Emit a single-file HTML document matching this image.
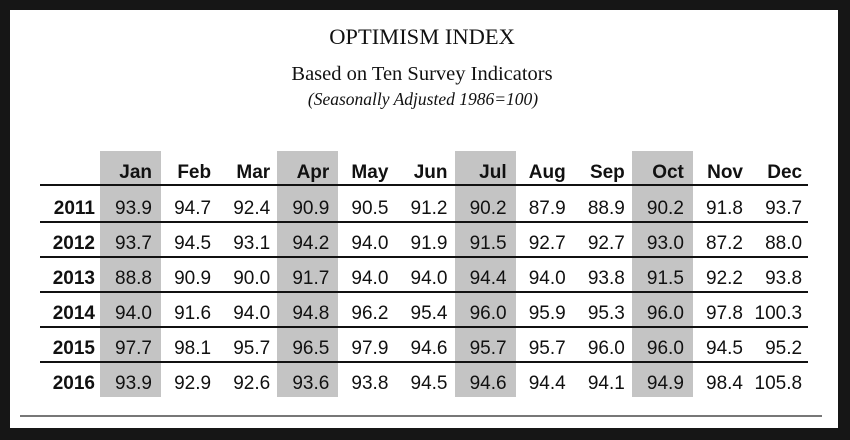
<!DOCTYPE html>
<html><head><meta charset="utf-8"><style>
body{margin:0;width:850px;height:440px;overflow:hidden;background:#161616;}
#card{position:absolute;left:10px;top:10px;width:828px;height:418px;background:#fff;}
.t{position:absolute;font-family:"Liberation Serif",serif;color:#111;text-align:center;white-space:nowrap;}
.c{position:absolute;font-family:"Liberation Sans",sans-serif;font-size:19px;color:#111;text-align:right;width:60px;line-height:22px;}
.b{font-weight:bold;}
.shade{position:absolute;background:#c4c4c4;}
.rule{position:absolute;background:#111;height:2px;}
</style></head><body>
<div id="card"></div>
<div class="t" style="left:0;width:844px;top:24px;font-size:22.5px;">OPTIMISM INDEX</div>
<div class="t" style="left:0;width:844px;top:63px;font-size:20.5px;">Based on Ten Survey Indicators</div>
<div class="t" style="left:0;width:846px;top:89px;font-size:17.5px;font-style:italic;">(Seasonally Adjusted 1986=100)</div>
<div id="tbl"></div>
<div style="position:absolute;left:20px;top:415px;width:802px;height:2px;background:#777;"></div>
<script>
const months=["Jan","Feb","Mar","Apr","May","Jun","Jul","Aug","Sep","Oct","Nov","Dec"];
const years=["2011","2012","2013","2014","2015","2016"];
const v2011=["93.9","94.7","92.4","90.9","90.5","91.2","90.2","87.9","88.9","90.2","91.8","93.7"];
const v2012=["93.7","94.5","93.1","94.2","94.0","91.9","91.5","92.7","92.7","93.0","87.2","88.0"];
const v2013=["88.8","90.9","90.0","91.7","94.0","94.0","94.4","94.0","93.8","91.5","92.2","93.8"];
const v2014=["94.0","91.6","94.0","94.8","96.2","95.4","96.0","95.9","95.3","96.0","97.8","100.3"];
const v2015=["97.7","98.1","95.7","96.5","97.9","94.6","95.7","95.7","96.0","96.0","94.5","95.2"];
const v2016=["93.9","92.9","92.6","93.6","93.8","94.5","94.6","94.4","94.1","94.9","98.4","105.8"];
const rows=[v2011,v2012,v2013,v2014,v2015,v2016];
const shadedMonths=[0,3,6,9];
const tbl=document.getElementById('tbl');
const colRight=i=>154+i*59.1;
const rowTop=r=>198+r*35;
function add(cls,txt,left,top,width){const d=document.createElement('div');d.className=cls;d.textContent=txt||'';d.style.left=left+'px';d.style.top=top+'px';if(width)d.style.width=width+'px';tbl.appendChild(d);return d;}
shadedMonths.forEach(i=>{
  const s=add('shade','',colRight(i)-54,151,61);
  
  
  s.style.height='246px';
});
months.forEach((m,i)=>{
  const h=add('c b',m,colRight(i)-62,162);
  
  
});
const hr=add('rule','',40,184,768);


years.forEach((y,r)=>{
  const yl=add('c b',y,35,rowTop(r));
  
  
  rows[r].forEach((v,i)=>{
    const c=add('c',v,colRight(i)-62,rowTop(r));
    
    
  });
  if(r<years.length-1){
    const ln=add('rule','',40,rowTop(r)+23,768);
    
    
  }
});
</script>
</body></html>
